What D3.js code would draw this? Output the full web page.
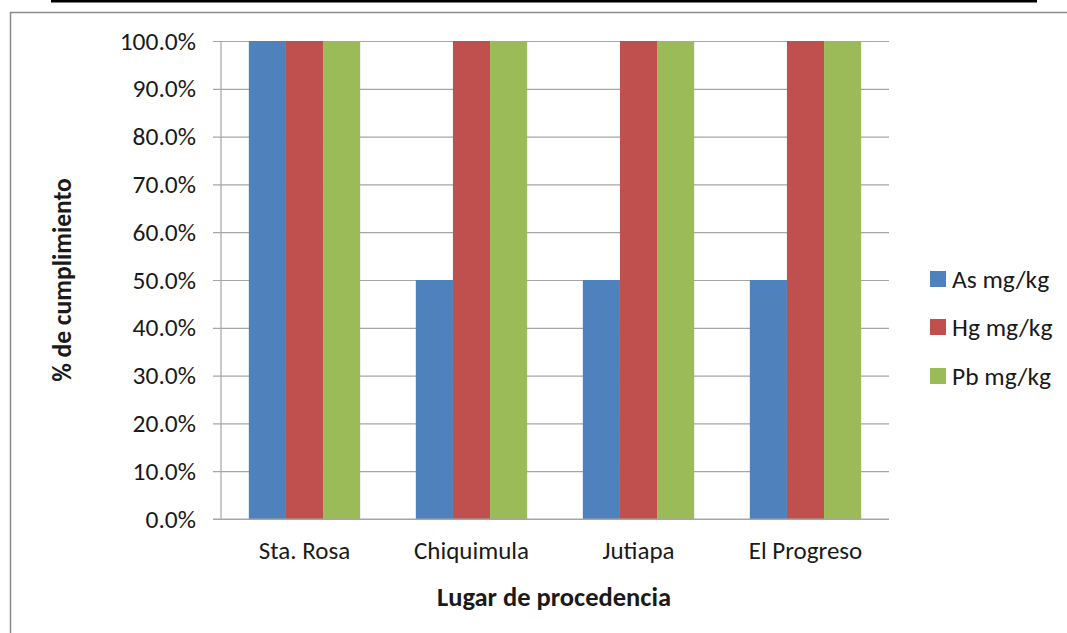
<!DOCTYPE html>
<html>
<head>
<meta charset="utf-8">
<script src="https://cdn.jsdelivr.net/npm/d3@7"></script>
<style>
  html, body { margin: 0; padding: 0; background: #fff; }
  svg { display: block; }
  text { font-family: Carlito, Calibri, Lato, sans-serif; fill: #1a1a1a; }
</style>
</head>
<body>
<svg id="chart" width="1067" height="633"></svg>
<script>
// Compliance share per sampling location
const categories = ["Sta. Rosa", "Chiquimula", "Jutiapa", "El Progreso"];
const seriesNames = ["As mg/kg", "Hg mg/kg", "Pb mg/kg"];
const asValues = [1.0, 0.5, 0.5, 0.5];
const hgValues = [1.0, 1.0, 1.0, 1.0];
const pbValues = [1.0, 1.0, 1.0, 1.0];
const seriesColors = ["#4F81BD", "#C0504D", "#9BBB59"];
const yTicks = [0, 0.1, 0.2, 0.3, 0.4, 0.5, 0.6, 0.7, 0.8, 0.9, 1.0];

const seriesValues = [asValues, hgValues, pbValues];

const svg = d3.select("#chart");

// page frame: clipped heading rule and chart border
svg.append("rect").attr("x", 51).attr("y", 0).attr("width", 986).attr("height", 2.5).attr("fill", "#000");
svg.append("path")
  .attr("d", "M10.5,633 V12.5 H1067")
  .attr("fill", "none").attr("stroke", "#8c8c8c").attr("stroke-width", 1.5);

const plot = { left: 221, right: 889, top: 41, bottom: 519 };

const y = d3.scaleLinear().domain([0, 1]).range([plot.bottom, plot.top]);
const x0 = d3.scaleBand().domain(categories)
  .range([plot.left, plot.right])
  .paddingInner(1 / 3).paddingOuter(1 / 6);
const x1 = d3.scaleBand().domain(seriesNames).range([0, x0.bandwidth()]);

// horizontal gridlines with y axis labels
const yAxis = d3.axisLeft(y)
  .tickValues(yTicks)
  .tickFormat(d3.format(".1%"))
  .tickSize(-(plot.right - plot.left + 8))
  .tickPadding(17);

const gy = svg.append("g").attr("transform", `translate(${plot.left - 8},0)`).call(yAxis);
gy.select(".domain").remove();
gy.selectAll(".tick line").attr("stroke", "#a6a6a6").attr("stroke-width", 1.2);
gy.selectAll(".tick text").attr("font-size", 25.5).style("fill", "#1a1a1a");

// bars
const groups = svg.append("g").selectAll("g")
  .data(categories)
  .join("g")
  .attr("transform", d => `translate(${x0(d)},0)`);

groups.selectAll("rect")
  .data((c, i) => seriesNames.map((s, k) => ({ s, k, v: seriesValues[k][i] })))
  .join("rect")
  .attr("x", d => x1(d.s))
  .attr("y", d => y(d.v))
  .attr("width", x1.bandwidth())
  .attr("height", d => y(0) - y(d.v))
  .attr("fill", d => seriesColors[d.k]);

// axis lines
svg.append("line")
  .attr("x1", plot.left).attr("x2", plot.left)
  .attr("y1", plot.top).attr("y2", plot.bottom)
  .attr("stroke", "#a6a6a6").attr("stroke-width", 1.2);
svg.append("line")
  .attr("x1", plot.left - 8).attr("x2", plot.right)
  .attr("y1", plot.bottom).attr("y2", plot.bottom)
  .attr("stroke", "#a6a6a6").attr("stroke-width", 1.2);

// category labels
const xAxis = d3.axisBottom(x0).tickSize(0).tickPadding(22);
const gx = svg.append("g").attr("transform", `translate(0,${plot.bottom})`).call(xAxis);
gx.select(".domain").remove();
gx.selectAll(".tick text").attr("font-size", 25).style("fill", "#1a1a1a");

// axis titles
svg.append("text")
  .attr("x", 554).attr("y", 606)
  .attr("text-anchor", "middle")
  .attr("font-size", 26.5).attr("font-weight", "bold")
  .text("Lugar de procedencia");

svg.append("text")
  .attr("transform", "translate(71,280) rotate(-90)")
  .attr("text-anchor", "middle")
  .attr("font-size", 25.5).attr("font-weight", "bold")
  .text("% de cumplimiento");

// legend
const legend = svg.append("g").attr("transform", "translate(930,0)");
const legendRows = [279, 327, 376];
seriesNames.forEach((name, k) => {
  const row = legend.append("g").attr("transform", `translate(0,${legendRows[k]})`);
  row.append("rect").attr("x", 0).attr("y", -8).attr("width", 16).attr("height", 16)
    .attr("fill", seriesColors[k]);
  row.append("text").attr("x", 22).attr("y", 0).attr("dy", "0.35em")
    .attr("font-size", 25.5).text(name);
});
</script>
</body>
</html>
